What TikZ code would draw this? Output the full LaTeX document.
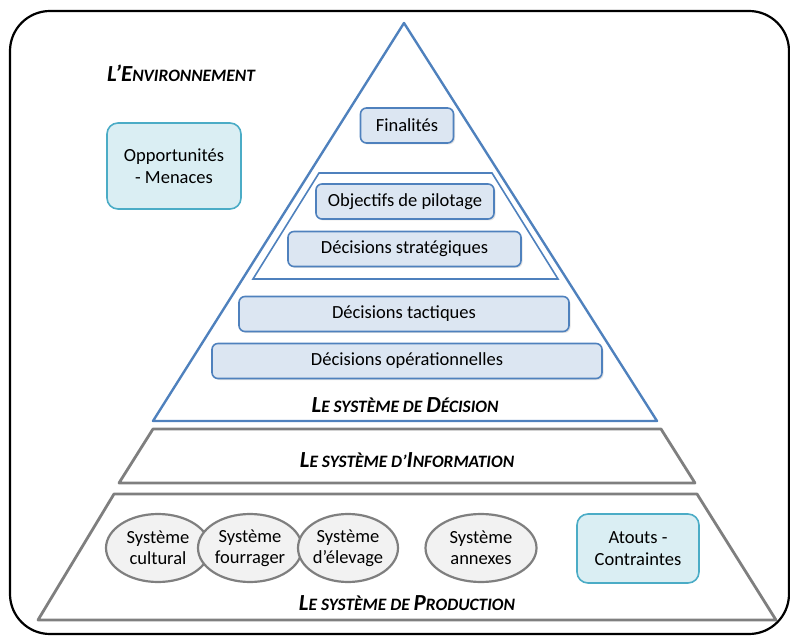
\documentclass[tikz,border=0pt]{standalone}
\usepackage{fontspec}
\setmainfont{Carlito}
\usetikzlibrary{shapes.geometric}
\usetikzlibrary{shadows}

\definecolor{pyrblue}{HTML}{4F81BD}
\definecolor{decfill}{HTML}{DCE6F2}
\definecolor{envfill}{HTML}{DAEEF3}
\definecolor{envline}{HTML}{4BACC6}
\definecolor{layergray}{HTML}{7F7F7F}
\definecolor{ovalfill}{HTML}{F2F2F2}

\newcommand{\lowcap}[1]{{\fontsize{17.4}{19}\selectfont #1}}

\tikzset{decbox/.style={draw=pyrblue,fill=decfill,line width=1.6pt,rounded corners=6pt,
		minimum height=35,drop shadow={shadow xshift=1.5pt,shadow yshift=-1.5pt,fill=black!22},
		font=\fontsize{18.5}{22}\selectfont},
	envbox/.style={draw=envline,fill=envfill,line width=1.6pt,rounded corners=11pt,
		align=center,font=\fontsize{18.5}{22}\selectfont},
	sysoval/.style={ellipse,draw=layergray,fill=ovalfill,line width=2.2pt,
		minimum height=68,inner sep=0pt,align=center,font=\fontsize{18.5}{21}\selectfont},
	layer/.style={draw=layergray,line width=2.8pt,line join=round},
	levtitle/.style={font=\fontsize{23}{25}\selectfont\bfseries\itshape},
	x=1pt,y=-1pt}

\begin{document}
\begin{tikzpicture}
		\useasboundingbox (0,0) rectangle (790,636);
		% cadre
		\draw [line width=2.2pt,rounded corners=40pt] (10,11) rectangle (789,634);
		\node [levtitle] (env) at (181,73) {L’E\lowcap{NVIRONNEMENT}};
		\node [envbox,minimum width=134,minimum height=86] (opp) at (174,166) {Opportunités\\- Menaces};

		% pyramide de decision
		\draw [pyrblue,line width=2.4pt,line join=round] (404,23) -- (657,421) -- (153,421) -- cycle;
		\draw [pyrblue,line width=1.6pt] (319,173) -- (492,173) -- (558,279) -- (253,279) -- cycle;
		\node [decbox,minimum width=93] (fin) at (407,125.5) {Finalités};
		\node [decbox,minimum width=178] (obj) at (405,201.5) {Objectifs de pilotage};
		\node [decbox,minimum width=233] (strat) at (404.5,249) {Décisions stratégiques};
		\node [decbox,minimum width=330] (tact) at (404,314) {Décisions tactiques};
		\node [decbox,minimum width=390] (oper) at (407,361) {Décisions opérationnelles};
		\node [levtitle] (dec) at (405,405) {L\lowcap{E SYSTÈME DE }D\lowcap{ÉCISION}};

		% information
		\draw [layer] (153,429) -- (661,429) -- (695,483) -- (119,483) -- cycle;
		\node [levtitle] (info) at (407,460) {L\lowcap{E SYSTÈME D’}I\lowcap{NFORMATION}};

		% production
		\draw [layer] (114,494) -- (697,494) -- (776,620) -- (38,620) -- cycle;
		\node [sysoval,minimum width=104] (cult) at (158,548) {Système\\cultural};
		\node [sysoval,minimum width=104] (fourr) at (250,548) {Système\\fourrager};
		\node [sysoval,minimum width=100] (elev) at (348,548) {Système\\d’élevage};
		\node [sysoval,minimum width=111] (annex) at (481,548) {Système\\annexes};
		\node [envbox,minimum width=122,minimum height=69] (atout) at (638,548.5) {Atouts -\\Contraintes};
		\node [levtitle] (prod) at (407,603) {L\lowcap{E SYSTÈME DE }P\lowcap{RODUCTION}};
	\end{tikzpicture}
\end{document}
